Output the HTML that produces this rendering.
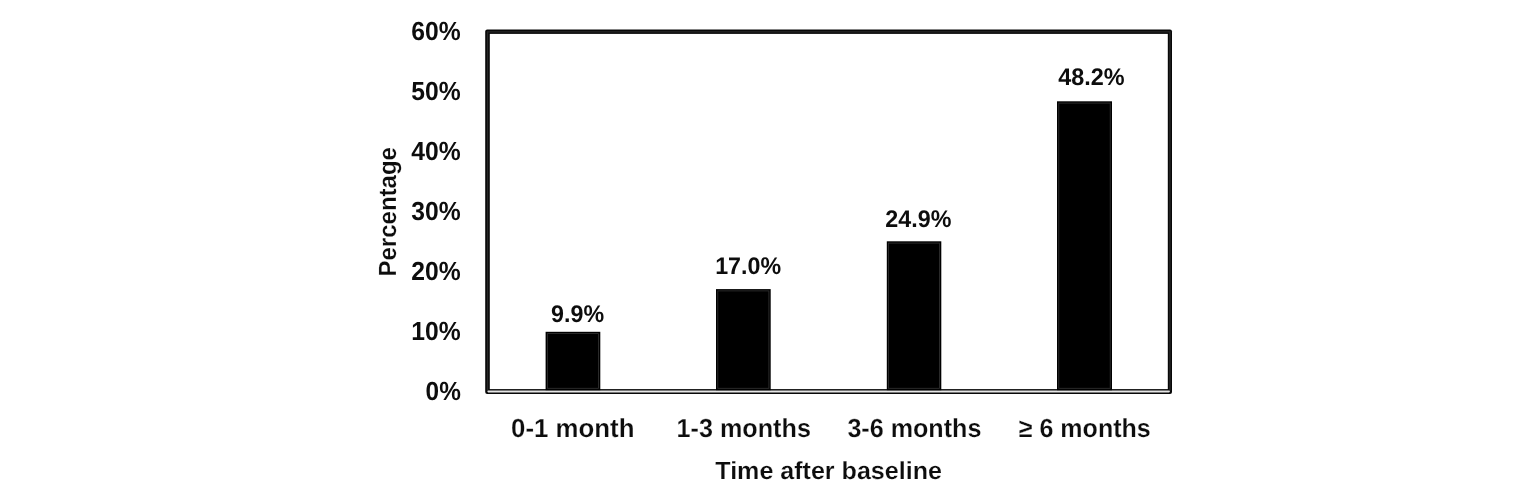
<!DOCTYPE html>
<html lang="en">
<head>
<meta charset="utf-8">
<title>Time after baseline</title>
<style>
html,body{margin:0;padding:0;background:#fff;}
body{width:1540px;height:500px;overflow:hidden;}
svg{display:block;}
text{font-family:"Liberation Sans",sans-serif;font-weight:bold;fill:#0d0d0d;stroke:#fff;stroke-width:0.2px;text-rendering:geometricPrecision;}
.ax{font-size:24.8px;}
.tk{font-size:26.1px;}
.val{font-size:24px;}
.num text{stroke:none;}
</style>
</head>
<body>
<svg width="1540" height="500" viewBox="0 0 1540 500">
  <rect x="0" y="0" width="1540" height="500" fill="#fff"/>
  <!-- plot frame -->
  <rect x="485.2" y="29.55" width="686.8" height="364.45" rx="2" ry="2" fill="#080808"/>
  <rect x="489.8" y="33.9" width="678.0" height="355.2" fill="#fff"/>
  <path d="M487.55 390.5 V31.9 H1169.95 V390.5" fill="none" stroke="#272727" stroke-width="1.4"/>
  <!-- light strip in bottom axis -->
  <rect x="487.4" y="390.45" width="682.5" height="1.95" rx="0.8" ry="0.8" fill="#e6e6e6"/>
  <!-- bars -->
  <g fill="#000">
    <rect x="545.6" y="331.8" width="54.7" height="58.4"/>
    <rect x="716.0" y="289.1" width="54.7" height="101.1"/>
    <rect x="886.8" y="241.3" width="54.5" height="148.9"/>
    <rect x="1057.0" y="101.3" width="55.0" height="288.9"/>
  </g>
  <g fill="none" stroke="#333" stroke-width="0.8">
    <rect x="547.4" y="333.6" width="51.1" height="54.7"/>
    <rect x="717.8" y="290.9" width="51.1" height="97.4"/>
    <rect x="888.6" y="243.1" width="50.9" height="145.2"/>
    <rect x="1058.8" y="103.1" width="51.4" height="285.2"/>
  </g>
  <!-- y tick labels -->
  <g class="tk num">
    <text x="411.2" y="39.9" textLength="49.4" lengthAdjust="spacingAndGlyphs">60%</text>
    <text x="411.2" y="99.9" textLength="49.4" lengthAdjust="spacingAndGlyphs">50%</text>
    <text x="411.2" y="159.9" textLength="49.4" lengthAdjust="spacingAndGlyphs">40%</text>
    <text x="411.2" y="219.9" textLength="49.4" lengthAdjust="spacingAndGlyphs">30%</text>
    <text x="411.2" y="279.7" textLength="49.4" lengthAdjust="spacingAndGlyphs">20%</text>
    <text x="411.2" y="339.5" textLength="49.4" lengthAdjust="spacingAndGlyphs">10%</text>
    <text x="425.6" y="400.1" textLength="35.2" lengthAdjust="spacingAndGlyphs">0%</text>
  </g>
  <!-- y axis title -->
  <text class="ax" transform="translate(396.2,276.6) rotate(-90)" textLength="129.6" lengthAdjust="spacingAndGlyphs">Percentage</text>
  <!-- value labels -->
  <g class="val num">
    <text x="551.1" y="321.5" textLength="53" lengthAdjust="spacingAndGlyphs">9.9%</text>
    <text x="715.2" y="274.4" textLength="65.9" lengthAdjust="spacingAndGlyphs">17.0%</text>
    <text x="885.3" y="226.6" textLength="66.1" lengthAdjust="spacingAndGlyphs">24.9%</text>
    <text x="1058.3" y="85.1" textLength="66.4" lengthAdjust="spacingAndGlyphs">48.2%</text>
  </g>
  <!-- x labels -->
  <g class="tk">
    <text x="511.1" y="436.9" textLength="123.4" lengthAdjust="spacingAndGlyphs">0-1 month</text>
    <text x="676.6" y="436.9" textLength="134.3" lengthAdjust="spacingAndGlyphs">1-3 months</text>
    <text x="847.4" y="436.9" textLength="134.0" lengthAdjust="spacingAndGlyphs">3-6 months</text>
    <text x="1018.8" y="436.9" textLength="131.9" lengthAdjust="spacingAndGlyphs">≥ 6 months</text>
  </g>
  <text class="ax" x="715.3" y="478.75" textLength="226.6" lengthAdjust="spacingAndGlyphs">Time after baseline</text>
</svg>
</body>
</html>
